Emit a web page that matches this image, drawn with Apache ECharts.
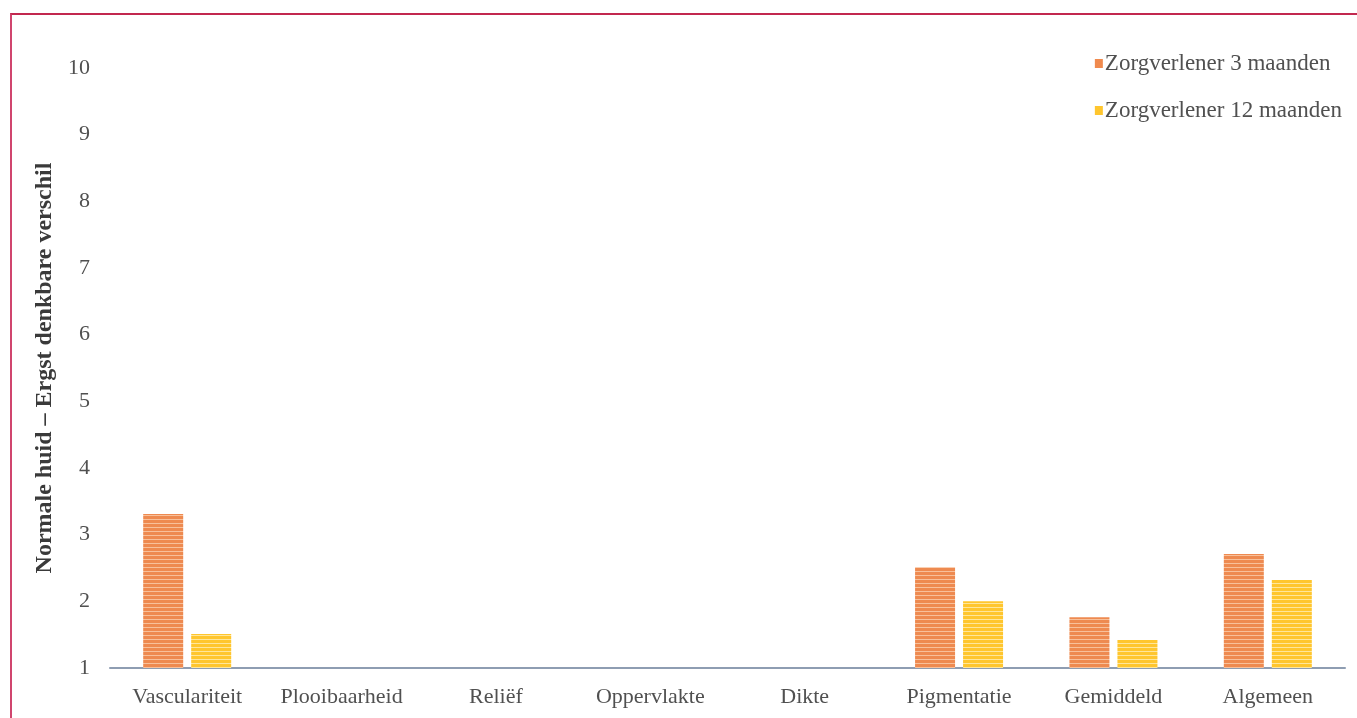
<!DOCTYPE html>
<html><head><meta charset="utf-8">
<script src="https://cdn.jsdelivr.net/npm/echarts@6/dist/echarts.min.js"></script>
<style>html,body{margin:0;padding:0;background:#fff;}#frame{position:absolute;left:10px;top:13px;width:1400px;height:760px;border-left:2px solid #d0456e;border-top:2px solid #c2284f;}#c{position:absolute;left:0;top:0;width:1357px;height:718px;}</style>
</head><body>
<div id="frame"></div>
<div id="c"></div>
<script>
const categories = ['Vasculariteit','Plooibaarheid','Reliëf','Oppervlakte','Dikte','Pigmentatie','Gemiddeld','Algemeen'];
const seriesNames = ['Zorgverlener 3 maanden','Zorgverlener 12 maanden'];
const values3m = [3.31, 1, 1, 1, 1, 2.51, 1.76, 2.71];
const values12m = [1.51, 1, 1, 1, 1, 2.0, 1.42, 2.32];
const yTicks = [1,2,3,4,5,6,7,8,9,10];

function stripe(dark, light){
  const cv = document.createElement('canvas');
  cv.width = 8; cv.height = 4;
  const ctx = cv.getContext('2d');
  ctx.fillStyle = dark; ctx.fillRect(0,0,8,4);
  ctx.fillStyle = light; ctx.fillRect(0,3,8,1);
  return {image: cv, repeat: 'repeat'};
}
const orange = stripe('#ee8a50', '#f8c09a');
const yellow = stripe('#ffc62e', '#ffe69a');

const FONT = 'Liberation Serif';
const chart = echarts.init(document.getElementById('c'));
chart.setOption({
  backgroundColor: 'transparent',
  animation: false,
  textStyle: {fontFamily: FONT},
  grid: {left: 110, right: 12, top: 68, bottom: 50, containLabel: false},
  legend: {
    orient: 'vertical', right: 10, top: 47, itemGap: 24,
    itemWidth: 8, itemHeight: 9, icon: 'rect',
    textStyle: {fontFamily: FONT, fontSize: 23, color: '#505050', padding: [0,0,0,-3]},
    data: [
      {name: seriesNames[0], itemStyle: {color: '#f08a4e'}},
      {name: seriesNames[1], itemStyle: {color: '#ffc62e'}}
    ]
  },
  xAxis: {
    type: 'category', data: categories,
    axisLine: {lineStyle: {color: '#8e9db2', width: 2}},
    axisTick: {show: false},
    axisLabel: {fontFamily: FONT, fontSize: 22, color: '#505050', margin: 18, interval: 0}
  },
  yAxis: {
    type: 'value', min: 1, max: 10, interval: 1,
    name: 'Normale huid – Ergst denkbare verschil',
    nameLocation: 'middle', nameGap: 52, nameRotate: 90,
    nameTextStyle: {fontFamily: FONT, fontSize: 24, fontWeight: 'bold', color: '#3a3a3a'},
    axisLine: {show: false}, axisTick: {show: false}, splitLine: {show: false},
    axisLabel: {fontFamily: FONT, fontSize: 22, color: '#505050', margin: 20,
      formatter: v => yTicks.includes(v) ? String(v) : ''}
  },
  series: [
    {name: seriesNames[0], type: 'bar', data: values3m, barWidth: 40, barGap: '20%', itemStyle: {color: orange}},
    {name: seriesNames[1], type: 'bar', data: values12m, barWidth: 40, barGap: '20%', itemStyle: {color: yellow}}
  ]
});
</script>
</body></html>
